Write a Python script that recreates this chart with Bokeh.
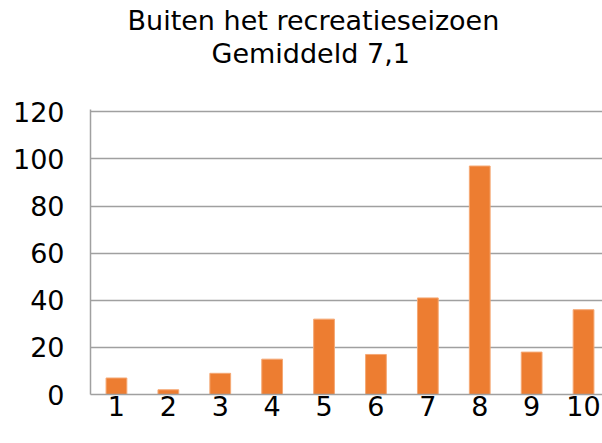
from bokeh.plotting import figure
from bokeh.models import Title, Range1d, FixedTicker, ColumnDataSource
from bokeh.embed import file_html
from bokeh.resources import INLINE

categories = [1, 2, 3, 4, 5, 6, 7, 8, 9, 10]
values = [7, 2, 9, 15, 32, 17, 41, 97, 18, 36]
y_ticks = [0, 20, 40, 60, 80, 100, 120]
title_line1 = "Buiten het recreatieseizoen"
title_line2 = "Gemiddeld 7,1"

FONT = "DejaVu Sans"
GRID = "#A0A0A0"

W, H = 602, 443
left_border, top_border, bottom_border = 90, 109, 49
frame_w = W - left_border
cat_px = 51.9
x0 = 0.5

p = figure(width=W, height=H, output_backend="svg", toolbar_location=None,
           title=None,
           x_range=Range1d(x0, x0 + frame_w / cat_px), y_range=Range1d(0, 121),
           min_border_left=left_border, min_border_right=0,
           min_border_top=top_border, min_border_bottom=bottom_border,
           outline_line_color=None, background_fill_color="white",
           border_fill_color="white")
xaxis_main = p.below[0]
yaxis_main = p.left[0]

src = ColumnDataSource(dict(x=categories, top=values))
p.vbar(x="x", top="top", width=0.4, source=src, fill_color="#ED7D31",
       line_color="#F5A874", line_width=1)

# blank spacer panel between the frame and the two title lines
p.add_layout(Title(text=" ", standoff=8, text_font=FONT, text_font_size="27px"), "above")

for txt, off in ((title_line2, 121), (title_line1, 37)):
    p.add_layout(Title(text=txt, align="left", offset=off, standoff=0,
                       text_font=FONT, text_font_size="27px",
                       text_font_style="normal", text_color="black"), "above")

xaxis_main.ticker = FixedTicker(ticks=categories)
yaxis_main.ticker = FixedTicker(ticks=y_ticks)
for ax in (xaxis_main, yaxis_main):
    ax.major_label_text_font = FONT
    ax.major_label_text_font_size = "27px"
    ax.major_label_text_color = "black"
    ax.major_tick_line_color = None
    ax.minor_tick_line_color = None
    ax.major_tick_out = 0
    ax.major_tick_in = 0
    ax.axis_line_color = GRID
    ax.axis_line_width = 1.5
yaxis_main.major_label_standoff = 26
xaxis_main.major_label_standoff = 1

p.xgrid.grid_line_color = None
p.ygrid.grid_line_color = GRID
p.ygrid.grid_line_width = 1.5

open("out.html", "w").write(file_html(p, INLINE))
